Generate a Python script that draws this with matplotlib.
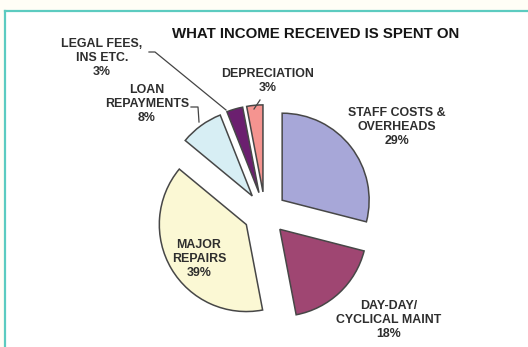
import matplotlib
matplotlib.use('Agg')
import matplotlib.pyplot as plt
from matplotlib.patches import Rectangle
from matplotlib.lines import Line2D

plt.rcParams['font.family'] = ['Liberation Sans', 'DejaVu Sans']

# what the income is spent on, clockwise from 12 o'clock
categories = ['STAFF COSTS &\nOVERHEADS', 'DAY-DAY/\nCYCLICAL MAINT', 'MAJOR\nREPAIRS',
              'LOAN\nREPAYMENTS', 'LEGAL FEES,\nINS ETC.', 'DEPRECIATION']
values = [29, 18, 39, 8, 3, 3]
colors = ['#a7a7d8', '#9f4672', '#fbf8d4', '#d7eef4', '#6b1f6f', '#f59490']

W, H = 528, 347
fig = plt.figure(figsize=(W / 100, H / 100), dpi=100)
fig.patch.set_facecolor('#fffef6')

# white panel with teal border on top and left
fig.add_artist(Rectangle((5 / W, 0), 1, (H - 11) / H, transform=fig.transFigure,
                         facecolor='white', edgecolor='none', zorder=0))
fig.add_artist(Line2D([5 / W, 5 / W], [0, (H - 11) / H], transform=fig.transFigure,
                      color='#5ccbc0', lw=1.6))
fig.add_artist(Line2D([5 / W, 1], [(H - 11) / H, (H - 11) / H], transform=fig.transFigure,
                      color='#5ccbc0', lw=1.6))

ax = fig.add_axes([0, 0, 1, 1])
ax.patch.set_alpha(0)

# axes in pixel units, so radius and explode distance are in pixels
cx, cy = 265, H - 213.5
wedges, _ = ax.pie(values, colors=colors, startangle=90, counterclock=False,
                   radius=87, center=(cx, cy), explode=[21.7] * len(values),
                   wedgeprops=dict(edgecolor='#474747', linewidth=1.1))
ax.set_xlim(0, W)
ax.set_ylim(0, H)
ax.set_aspect('auto')
ax.axis('off')

txt = dict(ha='center', va='center', fontsize=8.9, fontweight='bold',
           color='#2e2e2e', linespacing=1.22)
label_pos = [(397, 127), (389, 320), (199, 259), (147, 104), (102, 58), (268, 81)]
for name, val, (x, y) in zip(categories, values, label_pos):
    ax.text(x, H - y, f'{name}\n{val}%', **txt)

# leader lines for the small slices
lc = dict(color='#444444', lw=0.9)
ax.plot([149, 155, 226], [H - 52, H - 52, H - 110], **lc)
ax.plot([191, 198, 199], [H - 107, H - 107, H - 122], **lc)
ax.plot([260, 254], [H - 100, H - 109], **lc)

ax.text(316, H - 34, 'WHAT INCOME RECEIVED IS SPENT ON', ha='center', va='center',
        fontsize=10.8, fontweight='bold', color='#151515')

fig.savefig('out.png', dpi=100)
